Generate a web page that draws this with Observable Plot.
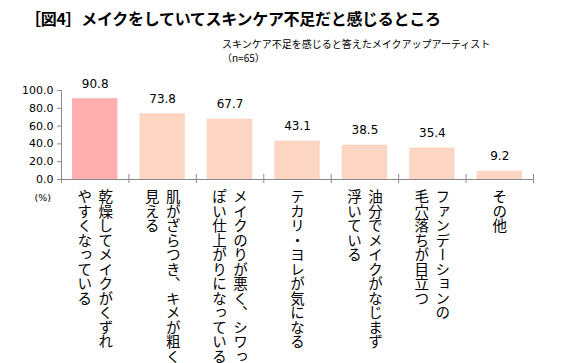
<!DOCTYPE html>
<html>
<head>
<meta charset="utf-8">
<script src="https://cdn.jsdelivr.net/npm/d3@7"></script>
<script src="https://cdn.jsdelivr.net/npm/@observablehq/plot@0.6"></script>
<style>
  html, body { margin: 0; padding: 0; background: #fff; }
  #wrap { position: relative; width: 584px; height: 363px; overflow: hidden; }
  #title { position: absolute; left: 25px; top: 8px; font-family: "Noto Sans CJK JP", sans-serif; font-weight: bold; font-size: 16px; line-height: 20px; letter-spacing: -0.3px; color: #000; white-space: nowrap; z-index: 2; }
  #subtitle { position: absolute; left: 222px; top: 37px; font-family: "Noto Sans CJK JP", sans-serif; font-size: 10px; line-height: 14px; color: #000; white-space: nowrap; z-index: 2; }
  #chart { position: absolute; left: 0; top: 0; }
</style>
</head>
<body>
<div id="wrap">
  <div id="title">［図4］メイクをしていてスキンケア不足だと感じるところ</div>
  <div id="subtitle">スキンケア不足を感じると答えたメイクアップアーティスト<br>（n=65）</div>
  <div id="chart"></div>
</div>
<script>
const categories = [
  "乾燥してメイクがくずれやすくなっている",
  "肌がざらつき、キメが粗く見える",
  "メイクのりが悪く、シワっぽい仕上がりになっている",
  "テカリ・ヨレが気になる",
  "油分でメイクがなじまず浮いている",
  "ファンデーションの毛穴落ちが目立つ",
  "その他"
];
const labelLines = [
  ["乾燥してメイクがくずれ", "やすくなっている"],
  ["肌がざらつき、キメが粗く", "見える"],
  ["メイクのりが悪く、シワっ", "ぽい仕上がりになっている"],
  ["テカリ・ヨレが気になる"],
  ["油分でメイクがなじまず", "浮いている"],
  ["ファンデーションの", "毛穴落ちが目立つ"],
  ["その他"]
];
const values = [90.8, 73.8, 67.7, 43.1, 38.5, 35.4, 9.2];
const yTicks = [0, 20, 40, 60, 80, 100];
const unitLabel = "(%)";

const rows = categories.map((c, i) => ({cat: c, i, value: values[i], lines: labelLines[i]}));
const twoLine = rows.filter(d => d.lines.length > 1);
const oneLine = rows.filter(d => d.lines.length === 1);
const boundaries = d3.range(categories.length + 1);

const axisGray = "#8a8a8a";
const catFont = "Noto Sans CJK JP";
const catSize = 14.5;

const plot = Plot.plot({
  width: 584,
  height: 363,
  marginTop: 90,
  marginBottom: 184,
  marginLeft: 61,
  marginRight: 51,
  style: {background: "transparent", overflow: "visible"},
  x: {type: "linear", domain: [0, categories.length], axis: null},
  y: {domain: [0, 100], axis: null},
  marks: [
    Plot.rectY(rows, {
      x1: d => d.i, x2: d => d.i + 1, y1: 0, y2: "value",
      insetLeft: 11, insetRight: 11,
      fill: d => d.i === 0 ? "#ffafaf" : "#fcd6c3"
    }),
    Plot.axisY({ticks: yTicks, tickFormat: d => d.toFixed(1), tickSize: 4, tickPadding: 4,
      fontSize: 11, fontFamily: "DejaVu Sans", stroke: axisGray, fill: "#000", label: null, anchor: "left"}),
    Plot.ruleX([0], {y1: 0, y2: 100, stroke: axisGray}),
    Plot.ruleY([0], {stroke: axisGray}),
    Plot.ruleX(boundaries, {x: d => d, y1: 0, y2: 0, insetTop: -5, insetBottom: -4, stroke: axisGray}),
    Plot.text(rows, {x: d => d.i + 0.5, y: "value", text: d => d.value.toFixed(1), dy: -15,
      fontSize: 12, fontFamily: "DejaVu Sans", fill: "#000"}),
    Plot.text(twoLine, {x: d => d.i + 0.5, frameAnchor: "bottom", text: d => d.lines[0], dx: 10.5, dy: 10,
      fontSize: catSize, fontFamily: catFont, fill: "#000", textAnchor: "start", ariaDescription: "catlabel"}),
    Plot.text(twoLine, {x: d => d.i + 0.5, frameAnchor: "bottom", text: d => d.lines[1], dx: -10.5, dy: 10,
      fontSize: catSize, fontFamily: catFont, fill: "#000", textAnchor: "start", ariaDescription: "catlabel"}),
    Plot.text(oneLine, {x: d => d.i + 0.5, frameAnchor: "bottom", text: d => d.lines[0], dy: 10,
      fontSize: catSize, fontFamily: catFont, fill: "#000", textAnchor: "start", ariaDescription: "catlabel"}),
    Plot.text([unitLabel], {frameAnchor: "bottom-left", dx: -27, dy: 21, fontSize: 9.5,
      fontFamily: "DejaVu Sans", fill: "#000"})
  ]
});

d3.select(plot).selectAll('g[aria-description="catlabel"] text')
  .attr("y", 0)
  .attr("text-anchor", "start")
  .style("writing-mode", "vertical-rl")
  .style("text-orientation", "mixed");

document.getElementById("chart").appendChild(plot);
</script>
</body>
</html>
